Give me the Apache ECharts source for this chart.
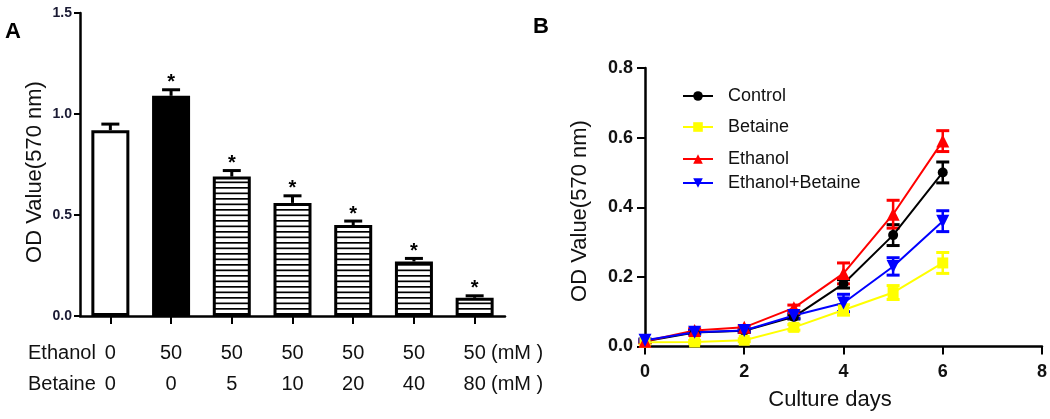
<!DOCTYPE html>
<html><head><meta charset="utf-8">
<script src="https://cdn.jsdelivr.net/npm/echarts@6/dist/echarts.min.js"></script>
<style>html,body{margin:0;padding:0;background:#fff}#c{width:1050px;height:419px}</style>
</head><body><div id="c"></div>
<script>
// ---- Panel A data ----
const ethanolLevels = ['0', '50', '50', '50', '50', '50', '50'];
const betaineLevels = ['0', '0', '5', '10', '20', '40', '80'];
const barValues = [0.92, 1.09, 0.69, 0.56, 0.45, 0.27, 0.09];
const barErrors = [0.03, 0.03, 0.03, 0.035, 0.02, 0.015, 0.01];
const barMarks = ['', '*', '*', '*', '*', '*', '*'];
const leftYMin = 0, leftYMax = 1.5, leftYStep = 0.5;

// ---- Panel B data ----
const days = [0, 1, 2, 3, 4, 5, 6];
const seriesNames = ['Control', 'Betaine', 'Ethanol', 'Ethanol+Betaine'];
const controlValues = [0.015, 0.040, 0.045, 0.085, 0.180, 0.320, 0.500];
const controlErrors = [0.004, 0.004, 0.004, 0.006, 0.012, 0.030, 0.030];
const betaineValues = [0.012, 0.013, 0.018, 0.055, 0.105, 0.155, 0.240];
const betaineErrors = [0.004, 0.004, 0.004, 0.008, 0.015, 0.020, 0.030];
const ethanolValues = [0.015, 0.046, 0.055, 0.111, 0.210, 0.380, 0.590];
const ethanolErrors = [0.004, 0.005, 0.005, 0.008, 0.030, 0.040, 0.030];
const ethBetValues = [0.018, 0.041, 0.046, 0.089, 0.125, 0.230, 0.360];
const ethBetErrors = [0.004, 0.005, 0.005, 0.008, 0.025, 0.025, 0.030];
const rightXMin = 0, rightXMax = 8, rightXStep = 2;
const rightYMin = 0, rightYMax = 0.8, rightYStep = 0.2;

const FONT = 'Liberation Sans, Arial, Helvetica, sans-serif';

// stripe pattern for bars
const pc = document.createElement('canvas');
pc.width = 8; pc.height = 11;
const pctx = pc.getContext('2d');
pctx.fillStyle = '#fff'; pctx.fillRect(0, 0, 8, 11);
pctx.fillStyle = '#000'; pctx.fillRect(0, 0, 8, 1.7); pctx.fillRect(0, 5.5, 8, 1.7);

const categories = ethanolLevels.map((e, i) => e + '\n' + betaineLevels[i]);

const lineDefs = [
  { name: seriesNames[0], values: controlValues, errors: controlErrors, color: '#000000', symbol: 'circle', size: 10, rot: 0 },
  { name: seriesNames[1], values: betaineValues, errors: betaineErrors, color: '#ffff00', symbol: 'rect', size: 11, rot: 0 },
  { name: seriesNames[2], values: ethanolValues, errors: ethanolErrors, color: '#ff0000', symbol: 'triangle', size: 13, rot: 0 },
  { name: seriesNames[3], values: ethBetValues, errors: ethBetErrors, color: '#0000ff', symbol: 'triangle', size: 13, rot: 180 }
];

const axisLineStyle = { color: '#000', width: 2.5 };

const series = [];
series.push({
  type: 'bar', xAxisIndex: 0, yAxisIndex: 0, barWidth: 38, silent: true,
  data: barValues.map((v, i) => ({
    value: v,
    itemStyle: {
      color: i === 0 ? '#fff' : (i === 1 ? '#000' : { image: pc, repeat: 'repeat' }),
      borderColor: '#000', borderWidth: 3
    }
  }))
});
series.push({
  type: 'custom', xAxisIndex: 0, yAxisIndex: 0, silent: true, z: 5,
  data: barValues.map((v, i) => [i, v, barErrors[i]]),
  renderItem: function (params, api) {
    const i = api.value(0), v = api.value(1), e = api.value(2);
    const p0 = api.coord([i, v]);
    const p1 = api.coord([i, v + e]);
    return {
      type: 'group', children: [
        { type: 'line', shape: { x1: p0[0], y1: p0[1], x2: p1[0], y2: p1[1] }, style: { stroke: '#000', lineWidth: 3 } },
        { type: 'line', shape: { x1: p1[0] - 9, y1: p1[1], x2: p1[0] + 9, y2: p1[1] }, style: { stroke: '#000', lineWidth: 3 } },
        { type: 'text', x: p1[0], y: p1[1] + 3, style: { text: barMarks[params.dataIndex], fill: '#000', font: 'bold 20px ' + FONT, align: 'center', verticalAlign: 'bottom' } }
      ]
    };
  }
});

lineDefs.forEach(d => {
  series.push({
    type: 'custom', xAxisIndex: 1, yAxisIndex: 1, silent: true, z: 3,
    data: days.map((x, i) => [x, d.values[i], d.errors[i]]),
    renderItem: function (params, api) {
      const x = api.value(0), v = api.value(1), e = api.value(2);
      const pt = api.coord([x, v + e]);
      const pb = api.coord([x, v - e]);
      const w = 6.5;
      return {
        type: 'group', children: [
          { type: 'line', shape: { x1: pt[0], y1: pt[1], x2: pb[0], y2: pb[1] }, style: { stroke: d.color, lineWidth: 2.5 } },
          { type: 'line', shape: { x1: pt[0] - w, y1: pt[1], x2: pt[0] + w, y2: pt[1] }, style: { stroke: d.color, lineWidth: 3 } },
          { type: 'line', shape: { x1: pb[0] - w, y1: pb[1], x2: pb[0] + w, y2: pb[1] }, style: { stroke: d.color, lineWidth: 3 } }
        ]
      };
    }
  });
  series.push({
    type: 'line', name: d.name, xAxisIndex: 1, yAxisIndex: 1, silent: true, z: 4,
    data: days.map((x, i) => [x, d.values[i]]),
    symbol: d.symbol, symbolSize: d.size, symbolRotate: d.rot, showAllSymbol: true,
    lineStyle: { color: d.color, width: 2 },
    itemStyle: { color: d.color },
    clip: false, animation: false
  });
});

const legendTops = [82, 113, 145, 169];
const legends = seriesNames.map((n, i) => ({
  data: [n], left: 677, top: legendTops[i], orient: 'vertical',
  itemWidth: 30, itemHeight: 12, selectedMode: false,
  textStyle: { fontSize: 18, fontFamily: FONT, color: '#111', padding: [0, 0, 0, 10] }
}));

const option = {
  animation: false,
  backgroundColor: '#fff',
  legend: legends,
  grid: [
    { left: 80, top: 13, width: 425, height: 303 },
    { left: 645, top: 68, width: 400, height: 278.5 }
  ],
  xAxis: [
    {
      type: 'category', gridIndex: 0, data: categories, boundaryGap: true,
      axisLine: { lineStyle: axisLineStyle },
      axisTick: { show: true, alignWithLabel: true, length: 8, lineStyle: { color: '#000', width: 2 } },
      axisLabel: { fontSize: 20, fontFamily: FONT, color: '#111', lineHeight: 31, margin: 22, interval: 0 },
      splitLine: { show: false }
    },
    {
      type: 'value', gridIndex: 1, min: rightXMin, max: rightXMax, interval: rightXStep,
      axisLine: { lineStyle: axisLineStyle },
      axisTick: { show: true, length: 8, lineStyle: { color: '#000', width: 2 } },
      axisLabel: { fontSize: 18, fontWeight: 'bold', fontFamily: FONT, color: '#111', margin: 17 },
      splitLine: { show: false }
    }
  ],
  yAxis: [
    {
      type: 'value', gridIndex: 0, min: leftYMin, max: leftYMax, interval: leftYStep,
      axisLine: { show: true, lineStyle: axisLineStyle },
      axisTick: { show: true, length: 6, lineStyle: { color: '#000', width: 2 } },
      axisLabel: { fontSize: 14, fontWeight: 'bold', fontFamily: FONT, color: '#1a1a33', margin: 8, formatter: v => v.toFixed(1) },
      splitLine: { show: false }
    },
    {
      type: 'value', gridIndex: 1, min: rightYMin, max: rightYMax, interval: rightYStep,
      axisLine: { show: true, lineStyle: axisLineStyle },
      axisTick: { show: true, length: 8, lineStyle: { color: '#000', width: 2 } },
      axisLabel: { fontSize: 18, fontWeight: 'bold', fontFamily: FONT, color: '#111', margin: 12, formatter: v => v.toFixed(1) },
      splitLine: { show: false }
    }
  ],
  graphic: [
    { type: 'text', left: 5, top: 21, style: { text: 'A', font: 'bold 22px ' + FONT, fill: '#000' } },
    { type: 'text', left: 533, top: 16, style: { text: 'B', font: 'bold 22px ' + FONT, fill: '#000' } },
    { type: 'text', x: 35, y: 172, rotation: Math.PI / 2, style: { text: 'OD Value(570 nm)', font: '22px ' + FONT, fill: '#111', align: 'center', verticalAlign: 'middle' } },
    { type: 'text', x: 580, y: 211, rotation: Math.PI / 2, style: { text: 'OD Value(570 nm)', font: '22px ' + FONT, fill: '#111', align: 'center', verticalAlign: 'middle' } },
    { type: 'text', x: 830, y: 400, style: { text: 'Culture days', font: '22px ' + FONT, fill: '#111', align: 'center', verticalAlign: 'middle' } },
    { type: 'text', x: 28, y: 353, style: { text: 'Ethanol', font: '20px ' + FONT, fill: '#111', align: 'left', verticalAlign: 'middle' } },
    { type: 'text', x: 28, y: 384, style: { text: 'Betaine', font: '20px ' + FONT, fill: '#111', align: 'left', verticalAlign: 'middle' } },
    { type: 'text', x: 491, y: 353, style: { text: '(mM )', font: '20px ' + FONT, fill: '#111', align: 'left', verticalAlign: 'middle' } },
    { type: 'text', x: 491, y: 384, style: { text: '(mM )', font: '20px ' + FONT, fill: '#111', align: 'left', verticalAlign: 'middle' } }
  ],
  series: series
};

const chart = echarts.init(document.getElementById('c'), null, { renderer: 'canvas' });
chart.setOption(option);
</script>
</body></html>
